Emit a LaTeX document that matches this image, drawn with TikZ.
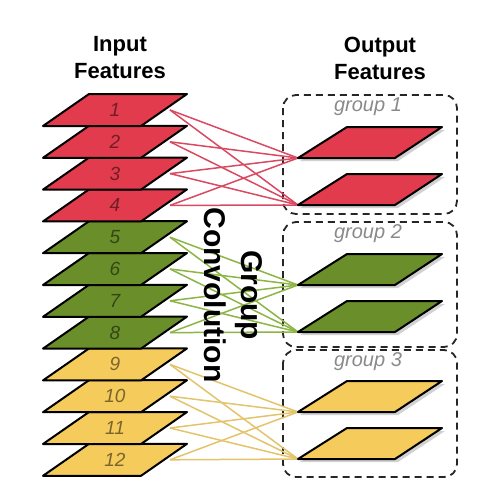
\documentclass[tikz,border=0pt]{standalone}
\usepackage{fontspec}
\setmainfont{Liberation Sans}
\definecolor{redF}{HTML}{E23B4E}
\definecolor{greF}{HTML}{6A8E2A}
\definecolor{yelF}{HTML}{F5CB5C}
\definecolor{redL}{HTML}{D94A62}
\definecolor{greL}{HTML}{8DB545}
\definecolor{yelL}{HTML}{E3C46C}
\definecolor{grpT}{HTML}{8A8A8A}
\begin{document}
\begin{tikzpicture}[x=1pt,y=-1pt,
  para/.style={draw=black,line width=2pt,line join=round},
  shade/.style={fill=black,opacity=0.18},
  num/.style={font=\fontsize{19}{22}\selectfont\itshape,text=black,text opacity=0.5,inner sep=0pt},
  title/.style={font=\fontsize{22}{27}\selectfont\bfseries,align=center,inner sep=0pt},
  conv/.style={line width=1.5pt},
  gbox/.style={draw=black!85,line width=1.8pt,dash pattern=on 7pt off 5pt,rounded corners=13pt},
  glab/.style={font=\fontsize{20}{24}\selectfont\itshape,text=grpT,inner sep=0pt,anchor=base}]
\useasboundingbox[fill=white] (0,0) rectangle (497,496);

% titles
\node[title] (tin) at (120,58) {Input\\Features};
\node[title] (tout) at (380,58) {Output\\Features};

% input anchor coordinates
\foreach \i in {1,...,12}{
  \pgfmathsetmacro\m{110+(\i-1)*31.8}
  \coordinate (in\i) at (170,\m);
}
% output anchor coordinates
\foreach \g in {1,2,3}{
  \foreach \k in {1,2}{
    \pgfmathsetmacro\b{158+(\g-1)*127+(\k-1)*47}
    \coordinate (out\g\k) at (298,\b);
  }
}

% group boxes
\draw[gbox] (283,95) rectangle (457,214);
\draw[gbox] (283,222) rectangle (457,347);
\draw[gbox] (283,350) rectangle (457,477);
\node[glab] (gl1) at (368,111) {group 1};
\node[glab] (gl2) at (368,238) {group 2};
\node[glab] (gl3) at (368,366) {group 3};

% connectors
\foreach \i in {1,...,4}{\foreach \k in {1,2}{\draw[conv,redL] (in\i) -- (out1\k);}}
\foreach \i in {5,...,8}{\foreach \k in {1,2}{\draw[conv,greL] (in\i) -- (out2\k);}}
\foreach \i in {9,...,12}{\foreach \k in {1,2}{\draw[conv,yelL] (in\i) -- (out3\k);}}

% input feature maps
\foreach \i/\c in {12/yelF,11/yelF,10/yelF,9/yelF,8/greF,7/greF,6/greF,5/greF,4/redF,3/redF,2/redF,1/redF}{
  \pgfmathsetmacro\t{94+(\i-1)*31.8}
  \pgfmathsetmacro\b{\t+32}
  \pgfmathsetmacro\m{\t+16}
  \draw[para,fill=\c] (43,\b) -- (141,\b) -- (187,\t) -- (89,\t) -- cycle;
  \node[num] (lab\i) at (115,\m) {\i};
}

% output feature maps
\foreach \g/\c in {1/redF,2/greF,3/yelF}{
  \foreach \k in {1,2}{
    \pgfmathsetmacro\t{127+(\g-1)*127+(\k-1)*47}
    \pgfmathsetmacro\b{\t+31}
    \fill[shade] (300,\b+3) -- (398,\b+3) -- (445,\t+3) -- (350,\t+3) -- cycle;
    \draw[para,fill=\c] (298,\b) -- (395,\b) -- (442,\t) -- (347,\t) -- cycle;
  }
}

% rotated label
\node[rotate=-90,align=center,font=\fontsize{30}{37}\selectfont\bfseries,inner sep=0pt] (gc) at (233,295) {Group\\Convolution};
\end{tikzpicture}
\end{document}
